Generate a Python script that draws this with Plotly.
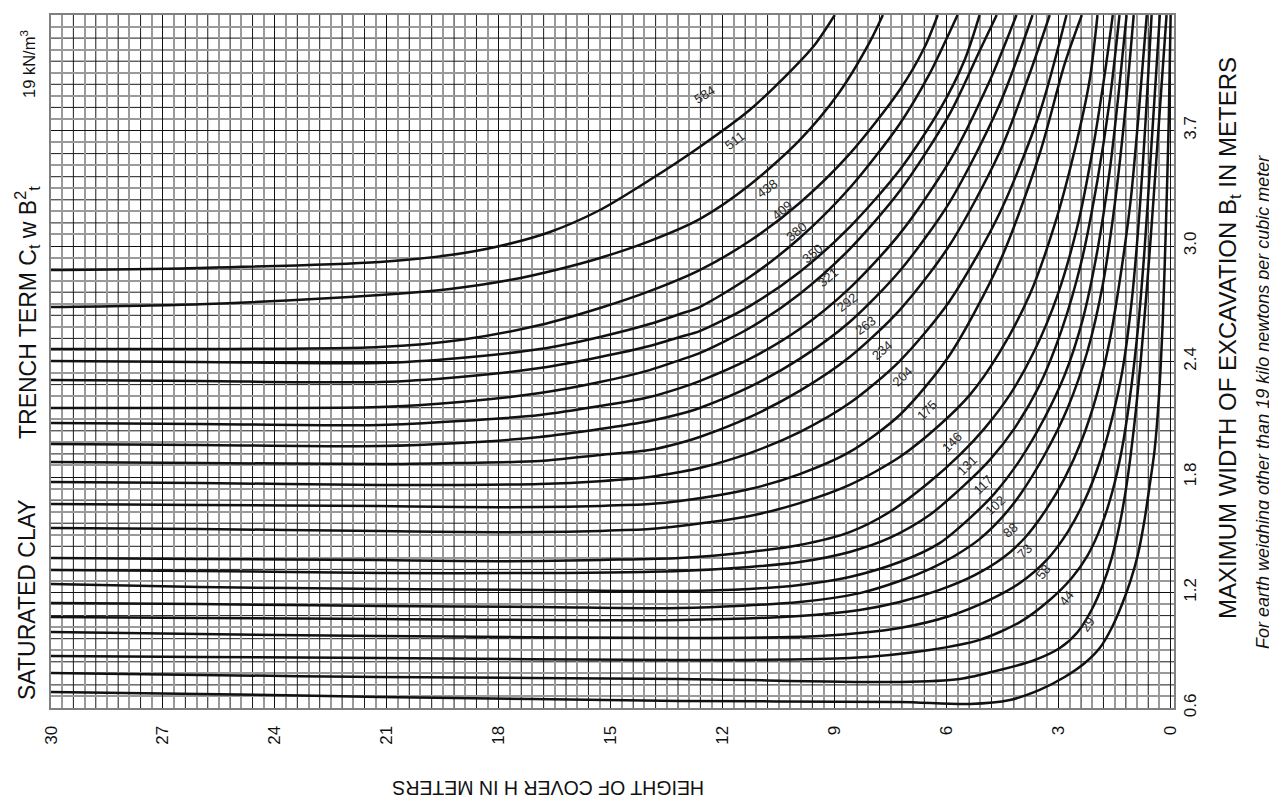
import plotly.graph_objects as go

# ---------------- data: H = height of cover (m), B = trench width (m) ----------------
curve_names = ["584", "511", "438", "409", "380", "350", "321", "292", "263", "234", "204",
               "175", "146", "131", "117", "102", "88", "73", "58", "44", "29"]

H_584 = [30, 26.01, 21.19, 19.31, 17.97, 16.63, 15.29, 13.96, 12.62, 11.28, 10.21, 9.54, 9.00]
B_584 = [2.921, 2.932, 2.964, 3.000, 3.048, 3.122, 3.238, 3.396, 3.571, 3.766, 3.966, 4.109, 4.267]
H_511 = [30, 26.01, 21.19, 19.31, 17.71, 16.37, 15.29, 13.96, 12.62, 11.28, 9.94, 8.87, 8.06, 7.71]
B_511 = [2.726, 2.741, 2.789, 2.821, 2.868, 2.927, 2.985, 3.074, 3.190, 3.370, 3.607, 3.861, 4.125, 4.267]
H_438 = [30, 26.01, 21.19, 19.04, 16.90, 15.29, 13.96, 12.62, 11.28, 9.94, 8.60, 7.26, 6.59, 6.24]
B_438 = [2.504, 2.504, 2.515, 2.552, 2.631, 2.721, 2.810, 2.921, 3.074, 3.275, 3.534, 3.871, 4.098, 4.267]
H_409 = [30, 26.01, 21.19, 19.04, 16.90, 15.29, 13.96, 13.15, 12.62, 11.28, 9.94, 8.60, 7.26, 6.46, 5.97, 5.71]
B_409 = [2.441, 2.436, 2.430, 2.457, 2.504, 2.568, 2.636, 2.689, 2.726, 2.884, 3.090, 3.354, 3.692, 3.956, 4.156, 4.267]
H_380 = [30, 26.01, 21.19, 19.04, 16.90, 15.29, 13.96, 13.15, 12.62, 11.28, 9.94, 8.60, 7.26, 6.19, 5.52, 5.12]
B_380 = [2.341, 2.335, 2.330, 2.357, 2.404, 2.462, 2.520, 2.568, 2.599, 2.731, 2.911, 3.148, 3.449, 3.766, 4.030, 4.267]
H_350 = [30, 26.01, 21.19, 19.04, 16.90, 15.29, 13.96, 13.15, 12.62, 11.28, 9.94, 8.60, 7.26, 5.92, 5.12, 4.66]
B_350 = [2.193, 2.193, 2.198, 2.225, 2.272, 2.330, 2.393, 2.446, 2.483, 2.615, 2.795, 3.032, 3.338, 3.745, 4.077, 4.267]
H_321 = [30, 26.01, 21.19, 19.04, 16.90, 15.29, 13.96, 13.15, 12.62, 11.28, 9.94, 8.60, 7.26, 5.92, 4.85, 4.13]
B_321 = [2.114, 2.109, 2.103, 2.124, 2.156, 2.203, 2.251, 2.298, 2.335, 2.452, 2.610, 2.826, 3.112, 3.497, 3.919, 4.267]
H_292 = [30, 26.01, 21.19, 19.04, 16.90, 15.29, 13.96, 13.15, 12.62, 11.28, 9.94, 8.60, 7.26, 5.92, 4.58, 3.70]
B_292 = [2.003, 1.998, 1.992, 2.008, 2.040, 2.082, 2.124, 2.161, 2.193, 2.304, 2.452, 2.647, 2.916, 3.280, 3.797, 4.267]
H_263 = [30, 26.01, 21.19, 19.04, 16.90, 15.29, 13.96, 13.15, 12.62, 11.28, 9.94, 8.60, 7.26, 5.92, 4.58, 3.78, 3.24]
B_263 = [1.908, 1.903, 1.897, 1.903, 1.913, 1.945, 1.971, 2.008, 2.040, 2.145, 2.283, 2.462, 2.710, 3.053, 3.544, 3.956, 4.267]
H_234 = [30, 26.01, 21.19, 19.04, 16.90, 15.29, 13.96, 13.15, 12.62, 11.28, 9.94, 8.60, 7.26, 5.92, 4.58, 3.51, 2.79]
B_234 = [1.802, 1.797, 1.787, 1.787, 1.792, 1.807, 1.829, 1.855, 1.876, 1.955, 2.066, 2.219, 2.441, 2.758, 3.222, 3.750, 4.267]
H_204 = [30, 26.01, 21.19, 19.04, 16.90, 15.29, 13.96, 13.15, 11.28, 9.94, 8.60, 7.26, 5.92, 4.58, 3.51, 2.84, 2.38]
B_204 = [1.686, 1.681, 1.676, 1.670, 1.670, 1.676, 1.686, 1.702, 1.765, 1.844, 1.961, 2.156, 2.473, 2.964, 3.534, 4.009, 4.267]
H_175 = [30, 26.01, 21.19, 19.04, 16.90, 15.29, 13.96, 13.15, 11.28, 9.94, 8.60, 7.26, 6.19, 5.38, 4.58,
         3.78, 3.11, 2.57, 2.17, 1.96]
B_175 = [1.560, 1.554, 1.544, 1.538, 1.538, 1.544, 1.554, 1.570, 1.623, 1.691, 1.787, 1.934, 2.103, 2.262, 2.488,
         2.789, 3.159, 3.555, 3.924, 4.267]
H_146 = [30, 26.01, 21.19, 19.04, 16.90, 15.29, 13.15, 11.28, 9.94, 8.60, 7.53, 6.46, 5.65, 4.98, 4.31,
         3.64, 3.03, 2.49, 2.09, 1.77, 1.55]
B_146 = [1.401, 1.396, 1.391, 1.385, 1.385, 1.391, 1.401, 1.433, 1.470, 1.538, 1.644, 1.802, 1.945, 2.087, 2.262,
         2.499, 2.789, 3.159, 3.555, 3.950, 4.267]
H_131 = [30, 26.01, 21.19, 16.90, 13.15, 11.28, 9.94, 8.60, 7.53, 6.46, 5.52, 4.85, 4.18, 3.51, 2.92,
         2.38, 1.96, 1.63, 1.37]
B_131 = [1.338, 1.333, 1.322, 1.322, 1.333, 1.354, 1.380, 1.433, 1.507, 1.628, 1.787, 1.918, 2.087, 2.314, 2.605,
         2.974, 3.396, 3.819, 4.267]
H_117 = [30, 26.01, 21.19, 16.90, 13.15, 11.28, 9.94, 8.60, 7.26, 6.19, 5.38, 4.71, 4.04, 3.38, 2.84,
         2.36, 1.96, 1.63, 1.37, 1.18]
B_117 = [1.264, 1.248, 1.238, 1.233, 1.227, 1.238, 1.259, 1.301, 1.380, 1.480, 1.612, 1.744, 1.918, 2.140, 2.367,
         2.657, 3.027, 3.449, 3.898, 4.267]
H_102 = [30, 26.01, 21.19, 16.90, 13.15, 9.94, 8.33, 7.26, 6.46, 5.79, 5.12, 4.58, 4.04, 3.38, 2.76,
         2.22, 1.82, 1.50, 1.23, 0.99]
B_102 = [1.164, 1.158, 1.148, 1.143, 1.137, 1.169, 1.216, 1.280, 1.343, 1.412, 1.501, 1.602, 1.734, 1.945, 2.193,
         2.499, 2.842, 3.265, 3.739, 4.267]
H_88 = [30, 26.01, 21.19, 13.15, 9.94, 8.33, 7.26, 6.19, 5.25, 4.50, 3.91, 3.38, 2.84, 2.38, 1.98,
        1.63, 1.34, 1.07, 0.86, 0.64]
B_88 = [1.090, 1.085, 1.079, 1.074, 1.095, 1.127, 1.169, 1.233, 1.311, 1.401, 1.507, 1.644, 1.823, 2.024, 2.262,
        2.552, 2.895, 3.291, 3.739, 4.267]
H_73 = [30, 26.01, 21.19, 13.15, 9.40, 7.26, 5.92, 4.85, 4.04, 3.32, 2.76, 2.30, 1.90, 1.58, 1.29,
        1.04, 0.83, 0.67, 0.51]
B_73 = [1.011, 1.000, 0.990, 0.979, 0.990, 1.032, 1.095, 1.180, 1.269, 1.391, 1.538, 1.707, 1.908, 2.130, 2.393,
        2.763, 3.238, 3.713, 4.267]
H_58 = [30, 26.01, 21.19, 13.15, 8.60, 6.46, 5.12, 4.04, 3.24, 2.65, 2.22, 1.85, 1.55, 1.31, 1.10,
        0.88, 0.70, 0.54, 0.40, 0.29]
B_58 = [0.884, 0.879, 0.873, 0.863, 0.873, 0.916, 0.969, 1.063, 1.180, 1.296, 1.417, 1.575, 1.760, 1.971, 2.235,
        2.605, 3.027, 3.502, 3.924, 4.267]
H_44 = [30, 26.01, 21.19, 13.15, 7.26, 5.65, 4.58, 3.64, 2.97, 2.49, 2.12, 1.82, 1.58, 1.37, 1.18,
        0.99, 0.80, 0.62, 0.46, 0.29, 0.11]
B_44 = [0.794, 0.784, 0.773, 0.763, 0.747, 0.763, 0.810, 0.863, 0.926, 1.011, 1.127, 1.259, 1.401, 1.575, 1.787,
        2.077, 2.446, 2.868, 3.291, 3.766, 4.267]
H_29 = [30, 26.01, 21.19, 13.15, 7.26, 5.38, 4.31, 3.51, 2.84, 2.30, 1.90, 1.58, 1.31, 1.07, 0.88,
        0.70, 0.56, 0.43, 0.32, 0.21, 0.13, 0.05, 0.0]
B_29 = [0.694, 0.684, 0.668, 0.647, 0.641, 0.631, 0.652, 0.705, 0.773, 0.847, 0.926, 1.032, 1.153, 1.285, 1.417,
        1.602, 1.787, 1.971, 2.235, 2.657, 3.132, 3.713, 4.267]

curves = {
    "584": (H_584, B_584), "511": (H_511, B_511), "438": (H_438, B_438), "409": (H_409, B_409),
    "380": (H_380, B_380), "350": (H_350, B_350), "321": (H_321, B_321), "292": (H_292, B_292),
    "263": (H_263, B_263), "234": (H_234, B_234), "204": (H_204, B_204), "175": (H_175, B_175),
    "146": (H_146, B_146), "131": (H_131, B_131), "117": (H_117, B_117), "102": (H_102, B_102),
    "88": (H_88, B_88), "73": (H_73, B_73), "58": (H_58, B_58), "44": (H_44, B_44), "29": (H_29, B_29),
}

# curve label positions (H, B) and angles
label_H = [12.48, 11.68, 10.82, 10.42, 10.02, 9.59, 9.19, 8.68, 8.17, 7.74, 7.18,
           6.54, 5.87, 5.46, 5.01, 4.71, 4.31, 3.91, 3.43, 2.81, 2.22]
label_B = [3.845, 3.607, 3.354, 3.238, 3.122, 3.006, 2.884, 2.752, 2.626, 2.499, 2.357,
           2.182, 2.013, 1.892, 1.787, 1.681, 1.549, 1.433, 1.327, 1.190, 1.048]
label_angle = [-32, -38, -36, -40, -40, -40, -40, -38, -36, -40, -44,
               -45, -45, -45, -45, -42, -40, -45, -52, -52, -55]

# axis ticks
x_tick_vals = [30, 27, 24, 21, 18, 15, 12, 9, 6, 3, 0]
x_tick_text = ["30", "27", "24", "21", "18", "15", "12", "9", "6", "3", "0"]
ft = 0.3048
y_tick_vals = [2 * ft, 4 * ft, 6 * ft, 8 * ft, 10 * ft, 12 * ft, 14 * ft]
y_tick_text = ["0.6", "1.2", "1.8", "2.4", "3.0", "3.7", "4.3"]
x_minor = 0.3          # grid step along H (m)
y_minor = 0.2 * ft     # grid step along B (m)

FONT = "Liberation Sans, Arial, sans-serif"
INK = "#111111"

# ---------------- figure ----------------
fig = go.Figure()
for name in curve_names:
    hs, bs = curves[name]
    fig.add_trace(go.Scatter(x=hs, y=bs, mode="lines",
                             line=dict(color=INK, width=2.5, shape="spline", smoothing=0.8),
                             hoverinfo="skip", showlegend=False))

for name, lh, lb, ang in zip(curve_names, label_H, label_B, label_angle):
    fig.add_annotation(x=lh, y=lb, text=name, showarrow=False, textangle=ang,
                       xanchor="center", yanchor="middle",
                       font=dict(family=FONT, size=13, color="#2a2a2a"))

# black grid lines at every second minor step (gray ones come from the axis minor grid)
for k in range(2, 100, 2):
    v = k * x_minor
    if k % 10:
        fig.add_shape(type="line", xref="x", yref="paper", x0=v, x1=v, y0=0, y1=1,
                      line=dict(color="#1a1a1a", width=1), layer="below")
for j in range(2, 60, 2):
    v = 2 * ft + j * y_minor
    if j % 10:
        fig.add_shape(type="line", xref="paper", yref="y", x0=0, x1=1, y0=v, y1=v,
                      line=dict(color="#1a1a1a", width=1), layer="below")

tickfont = dict(family=FONT, size=17, color=INK)
fig.update_xaxes(range=[30, -0.09], tickmode="array", tickvals=x_tick_vals, ticktext=x_tick_text,
                 tickangle=-90, tickfont=tickfont, ticks="", ticklabelstandoff=9,
                 showgrid=True, gridcolor="#111111", gridwidth=1.3, automargin=False,
                 zeroline=False, showline=True, linecolor="#808080", linewidth=2, mirror=True,
                 minor=dict(tickmode="linear", tick0=x_minor, dtick=2 * x_minor, showgrid=True,
                            gridcolor="#9a9a9a", gridwidth=1.8, ticks=""))
fig.update_yaxes(range=[2 * ft, 14 * ft], tickmode="array", tickvals=y_tick_vals, ticktext=y_tick_text,
                 side="right", tickangle=-90, tickfont=tickfont, ticks="", automargin=False,
                 showgrid=True, gridcolor="#111111", gridwidth=1.3, zeroline=False, showline=True,
                 linecolor="#808080", linewidth=2, mirror=True,
                 minor=dict(tickmode="linear", tick0=2 * ft + y_minor, dtick=2 * y_minor, showgrid=True,
                            gridcolor="#9a9a9a", gridwidth=1.8, ticks=""))


def px(xp):
    return (xp - 51) / 1123


def py(yp):
    return (708 - yp) / 693


def side_text(x, y, text, size, angle=-90, italic=False):
    fig.add_annotation(xref="paper", yref="paper", x=px(x), y=py(y), text=text,
                       showarrow=False, textangle=angle, xanchor="center", yanchor="middle",
                       font=dict(family=FONT, size=size, color=INK,
                                 style="italic" if italic else "normal"))


side_text(27, 600, "SATURATED CLAY", 23)
side_text(27, 313, "TRENCH TERM C<sub>t</sub> w B<sup>2</sup><sub>t</sub>", 23)
side_text(28, 64, "19 kN/m<sup>3</sup>", 16.5)
side_text(1229, 338, "MAXIMUM WIDTH OF EXCAVATION B<sub>t</sub> IN METERS", 24)
side_text(1263, 402, "For earth weighing other than 19 kilo newtons per cubic meter", 18, italic=True)
side_text(548, 788, "HEIGHT OF COVER H IN METERS", 19.5, angle=180)

# the page body has an 8px margin: the figure is 8px smaller so the plot area sits at
# page pixels (51..1174, 15..708)
fig.update_layout(width=1269, height=797, margin=dict(l=43, r=103, t=7, b=97),
                  paper_bgcolor="white", plot_bgcolor="white")
fig.write_html("out.html")
